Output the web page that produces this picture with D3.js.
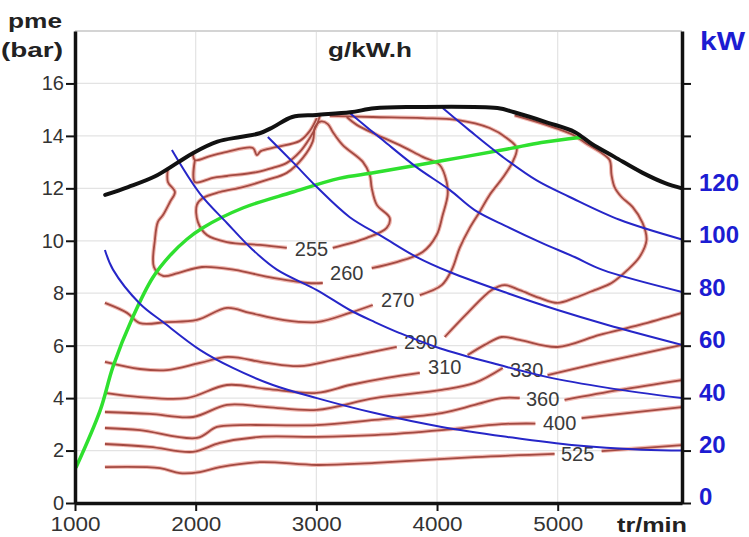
<!DOCTYPE html>
<html>
<head>
<meta charset="utf-8">
<script src="https://cdn.jsdelivr.net/npm/d3@7"></script>
<style>
    body { margin: 0; background: #fff; }
    svg { display: block; font-family: "Liberation Sans", Arial, sans-serif; }
</style>
</head>
<body>
<svg id="chart" width="749" height="537"></svg>
<script>
"use strict";

// ---- data (rpm, pme in bar) ----
const xTicks = [1000, 2000, 3000, 4000, 5000];
const pmeTicks = [0, 2, 4, 6, 8, 10, 12, 14, 16];
const kwTicks = [0, 20, 40, 60, 80, 100, 120, 140, 160];
const kwLabelMax = 120;

/** full load curve */
const fullLoad = [[1250, 11.75], [1440, 12.05], [1660, 12.45], [1850, 12.98], [1980, 13.35], [2180, 13.78],
    [2370, 13.96], [2530, 14.1], [2640, 14.33], [2800, 14.72], [3000, 14.8], [3280, 14.9], [3480, 15.05],
    [3760, 15.1], [4500, 15.06], [4640, 14.9], [4920, 14.5], [5140, 14.15], [5280, 13.7], [5470, 13.2],
    [5700, 12.6], [5890, 12.2], [6030, 12.0]];

/** green line (best consumption) */
const ecoLine = [[1010, 1.37], [1210, 3.55], [1315, 5.2], [1480, 7.1], [1645, 8.6], [1790, 9.45], [1925, 10.05],
    [2060, 10.5], [2390, 11.25], [2800, 11.85], [3190, 12.38], [3485, 12.6], [4040, 13.05], [4585, 13.5],
    [4865, 13.75], [5200, 13.95]];

/** constant power lines */
const power20 = [[1248, 9.65], [1315, 8.9], [1538, 7.6], [1729, 6.9], [2035, 5.84], [2308, 5.15], [2640, 4.5],
    [3004, 4.0], [3484, 3.43], [4039, 2.9], [4585, 2.52], [5140, 2.2], [5695, 2.03], [6030, 2.0]];
const power40 = [[1803, 13.46], [2035, 11.8], [2259, 10.68], [2474, 9.65], [2673, 8.9], [3004, 8.12], [3277, 7.36],
    [3484, 6.9], [3691, 6.48], [4022, 5.9], [4519, 5.26], [4917, 4.8], [5414, 4.39], [6030, 4.0]];
const power60 = [[2598, 13.96], [2805, 13.0], [3004, 12.05], [3277, 10.9], [3550, 10.15], [3832, 9.38],
    [4105, 8.81], [4585, 8.0], [5000, 7.36], [5414, 6.79], [6030, 6.03]];
const power80 = [[3277, 14.87], [3550, 13.84], [3832, 12.8], [4105, 11.94], [4312, 11.17], [4585, 10.53],
    [4867, 9.92], [5140, 9.38], [5372, 8.89], [6030, 8.05]];
const power100 = [[4047, 15.06], [4271, 14.2], [4544, 13.2], [4826, 12.3], [5099, 11.67], [5513, 10.8], [6030, 10.05]];

/** iso consumption lines (g/kW.h), cut where the label sits */
const iso255 = [
    [[3136, 9.73], [3418, 10.11], [3583, 10.49], [3608, 10.87], [3501, 11.37], [3459, 12.01], [3443, 12.51],
     [3385, 13.01], [3219, 13.65], [3136, 14.15], [3095, 14.45], [3040, 14.55], [2990, 14.35], [2971, 13.8],
     [2888, 13.16], [2755, 12.59], [2590, 12.32], [2391, 12.05], [2201, 11.86], [2060, 11.63], [2010, 11.37],
     [2018, 10.72], [2093, 10.22], [2259, 9.95], [2532, 9.84], [2755, 9.73]]
];
const iso260 = [
    [[1770, 12.78], [1770, 12.24], [1828, 11.86], [1787, 11.48], [1729, 10.98], [1687, 10.72], [1662, 10.03],
     [1654, 9.0], [1729, 8.66], [1853, 8.77], [2052, 9.0], [2325, 8.89], [2598, 8.62], [2929, 8.39], [3053, 8.39]],
    [[3459, 8.96], [3666, 9.19], [3881, 9.57], [3997, 10.22], [4047, 10.98], [4088, 11.75], [4080, 12.24],
     [4022, 12.89], [3881, 13.2], [3691, 13.65], [3501, 14.04], [3335, 14.42], [3252, 14.72]]
];
const iso270 = [
    [[1248, 7.63], [1431, 7.25], [1538, 6.86], [1762, 6.9], [2010, 6.98], [2259, 7.44], [2449, 7.25],
     [2722, 6.98], [3004, 6.9], [3277, 7.25], [3467, 7.55]],
    [[3857, 7.93], [4039, 8.31], [4122, 8.89], [4188, 9.73], [4271, 10.49], [4353, 11.1], [4436, 11.75],
     [4544, 12.4], [4627, 13.01], [4660, 13.54], [4577, 13.92], [4436, 14.3], [4163, 14.61], [3881, 14.68],
     [3467, 14.72], [3111, 14.76]]
];
const iso290 = [
    [[1248, 5.38], [1538, 5.11], [1762, 5.07], [2035, 5.34], [2267, 5.57], [2590, 5.34], [2863, 5.22],
     [3136, 5.45], [3418, 5.72], [3666, 5.95]],
    [[4064, 6.33], [4254, 7.25], [4453, 8.12], [4560, 8.31], [4685, 8.12], [4850, 7.82], [4999, 7.63],
     [5140, 7.82], [5306, 8.12], [5446, 8.39], [5579, 8.89], [5678, 9.38], [5736, 10.03], [5703, 10.68],
     [5620, 11.29], [5529, 11.67], [5471, 12.05], [5446, 12.51], [5430, 13.08], [5347, 13.4], [5239, 13.7],
     [5123, 14.05], [4916, 14.4], [4643, 14.78]]
];
const iso310 = [
    [[1248, 4.2], [1538, 4.04], [1927, 4.0], [2259, 4.5], [2590, 4.35], [3004, 4.2], [3277, 4.5], [3583, 4.77],
     [3857, 4.96]],
    [[4254, 5.64], [4395, 6.03], [4536, 6.33], [4685, 6.22], [4999, 5.95], [5347, 6.41], [5678, 6.79], [6030, 7.25]]
];
const iso330 = [
    [[1248, 3.47], [1620, 3.4], [1977, 3.28], [2259, 3.74], [2590, 3.66], [3004, 3.55], [3484, 4.0], [4039, 4.31],
     [4312, 4.58], [4544, 5.15]],
    [[4916, 4.88], [5347, 5.34], [6030, 6.03]]
];
const iso360 = [
    [[1248, 2.86], [1538, 2.78], [2010, 2.48], [2176, 2.9], [2366, 2.97], [3004, 2.97], [3484, 3.17], [4039, 3.43],
     [4312, 3.74], [4536, 4.0], [4685, 4.0]],
    [[5057, 3.93], [5513, 4.31], [6030, 4.69]]
];
const iso400 = [
    [[1248, 2.25], [1621, 2.14], [1977, 1.95], [2201, 2.29], [2532, 2.52], [3004, 2.52], [3484, 2.59], [4039, 2.78],
     [4536, 3.01], [4815, 3.03]],
    [[5198, 3.24], [6030, 3.66]]
];
const iso525 = [
    [[1248, 1.37], [1704, 1.33], [1869, 1.14], [2035, 1.18], [2201, 1.37], [2532, 1.56], [3004, 1.45], [3484, 1.53],
     [4312, 1.75], [4974, 1.87]],
    [[5364, 1.98], [6030, 2.21]]
];
/** unlabelled lines under the full load curve */
const isoTop = [
    [[1977, 13.39], [1994, 13.08], [2118, 13.23], [2259, 13.39], [2474, 13.54], [2507, 13.27], [2540, 13.42],
     [2673, 13.58], [2863, 13.81], [2946, 14.19], [3004, 14.68]],
    [[1994, 13.08], [1994, 12.24], [2143, 12.4], [2259, 12.47], [2507, 12.62], [2639, 12.78], [2755, 12.97],
     [2863, 13.39], [2946, 13.92], [3004, 14.42], [3029, 14.76]]
];
/** label text, rpm, pme */
const isoLabels = [["255", 2960, 9.68], ["260", 3252, 8.77], ["270", 3674, 7.74], ["290", 3865, 6.14],
    ["310", 4064, 5.19], ["330", 4743, 5.07], ["360", 4875, 3.97], ["400", 5016, 3.05], ["525", 5165, 1.87]];

// ---- drawing ----
const svg = d3.select("#chart");
const plot = { left: 75, right: 682, top: 31, bottom: 503 };

const x = d3.scaleLinear().domain([1000, 6030]).range([plot.left, plot.right]);
const y = d3.scaleLinear().domain([0, 18]).range([plot.bottom, plot.top]);
const yKw = d3.scaleLinear().domain([0, 180]).range([plot.bottom, plot.top]);

const line = d3.line().x(d => x(d[0])).y(d => y(d[1])).curve(d3.curveCatmullRom.alpha(0.5));

// grid
const grid = svg.append("g");
grid.selectAll(".vgrid").data(xTicks.slice(1)).enter()
    .append("line")
    .attr("x1", d => x(d)).attr("x2", d => x(d))
    .attr("y1", plot.top).attr("y2", plot.bottom)
    .style("stroke", "#e3e3e3").style("stroke-width", 1.2);
grid.selectAll(".hgrid").data(pmeTicks.slice(1)).enter()
    .append("line")
    .attr("x1", plot.left).attr("x2", plot.right)
    .attr("y1", d => y(d)).attr("y2", d => y(d))
    .style("stroke", "#e3e3e3").style("stroke-width", 1.2);
grid.append("line")
    .attr("x1", plot.left).attr("x2", plot.right)
    .attr("y1", y(18)).attr("y2", y(18))
    .style("stroke", "#d4d4d4").style("stroke-width", 2);

// iso lines: pale halo then brown core
const isoSegments = [iso255, iso260, iso270, iso290, iso310, iso330, iso360, iso400, iso525, isoTop].flat();
svg.append("g").selectAll("path").data(isoSegments).enter()
    .append("path")
    .attr("d", line)
    .style("fill", "none").style("stroke", "#f1b9b2").style("stroke-width", 4);
svg.append("g").selectAll("path").data(isoSegments).enter()
    .append("path")
    .attr("d", line)
    .style("fill", "none").style("stroke", "#a34a42").style("stroke-width", 1.8);

svg.append("g").selectAll("text").data(isoLabels).enter()
    .append("text")
    .attr("x", d => x(d[1])).attr("y", d => y(d[2]))
    .attr("dy", "0.36em")
    .attr("text-anchor", "middle")
    .style("font-size", "20px").style("fill", "#3a3a3a")
    .text(d => d[0]);

// green line
svg.append("path").datum(ecoLine)
    .attr("d", line)
    .style("fill", "none").style("stroke", "#2fe02f").style("stroke-width", 3.5)
    .style("stroke-linecap", "round");

// power lines
svg.append("g").selectAll("path").data([power20, power40, power60, power80, power100]).enter()
    .append("path")
    .attr("d", line)
    .style("fill", "none").style("stroke", "#2626c8").style("stroke-width", 2);

// full load
svg.append("path").datum(fullLoad)
    .attr("d", line)
    .style("fill", "none").style("stroke", "#111").style("stroke-width", 4)
    .style("stroke-linecap", "round");

// axes
const styleAxis = g => {
    g.select(".domain").style("stroke", "#111").style("stroke-width", 3.5);
    g.selectAll(".tick line").style("stroke", "#111").style("stroke-width", 2);
};

svg.append("g")
    .attr("transform", `translate(${plot.left},0)`)
    .call(d3.axisLeft(y).tickValues(pmeTicks).tickSize(9).tickSizeOuter(0).tickPadding(2))
    .call(styleAxis)
    .call(g => g.selectAll("text").style("font-size", "20px").style("fill", "#333")
        .style("font-family", "Liberation Sans, Arial, sans-serif"));

svg.append("g")
    .attr("transform", `translate(0,${plot.bottom})`)
    .call(d3.axisBottom(x).tickValues(xTicks).tickSize(8).tickSizeOuter(0).tickPadding(6).tickFormat(d3.format("d")))
    .call(styleAxis)
    .call(g => g.selectAll("text").style("font-size", "20px").style("fill", "#333")
        .style("font-family", "Liberation Sans, Arial, sans-serif")
        .attr("textLength", 50).attr("lengthAdjust", "spacingAndGlyphs"));

svg.append("g")
    .attr("transform", `translate(${plot.right},0)`)
    .call(d3.axisRight(yKw).tickValues(kwTicks).tickSize(9).tickSizeOuter(0).tickPadding(8)
        .tickFormat(d => d <= kwLabelMax ? d : ""))
    .call(styleAxis)
    .call(g => g.selectAll("text").attr("dy", "0.08em")
        .style("font-size", "24px").style("font-weight", "bold").style("fill", "#1c1cd2")
        .style("font-family", "Liberation Sans, Arial, sans-serif"));

// titles
svg.append("text").attr("x", 8).attr("y", 28)
    .attr("textLength", 54).attr("lengthAdjust", "spacingAndGlyphs")
    .style("font-size", "21px").style("font-weight", "bold").style("fill", "#222")
    .text("pme");
svg.append("text").attr("x", 1).attr("y", 57)
    .attr("textLength", 62).attr("lengthAdjust", "spacingAndGlyphs")
    .style("font-size", "21px").style("font-weight", "bold").style("fill", "#222")
    .text("(bar)");
svg.append("text").attr("x", 328).attr("y", 57)
    .attr("textLength", 84).attr("lengthAdjust", "spacingAndGlyphs")
    .style("font-size", "20px").style("font-weight", "bold").style("fill", "#222")
    .text("g/kW.h");
svg.append("text").attr("x", 700).attr("y", 50)
    .attr("textLength", 45).attr("lengthAdjust", "spacingAndGlyphs")
    .style("font-size", "25px").style("font-weight", "bold").style("fill", "#1c1cd2")
    .text("kW");
svg.append("text").attr("x", 617).attr("y", 532)
    .attr("textLength", 70).attr("lengthAdjust", "spacingAndGlyphs")
    .style("font-size", "21px").style("font-weight", "bold").style("fill", "#222")
    .text("tr/min");
</script>
</body>
</html>
